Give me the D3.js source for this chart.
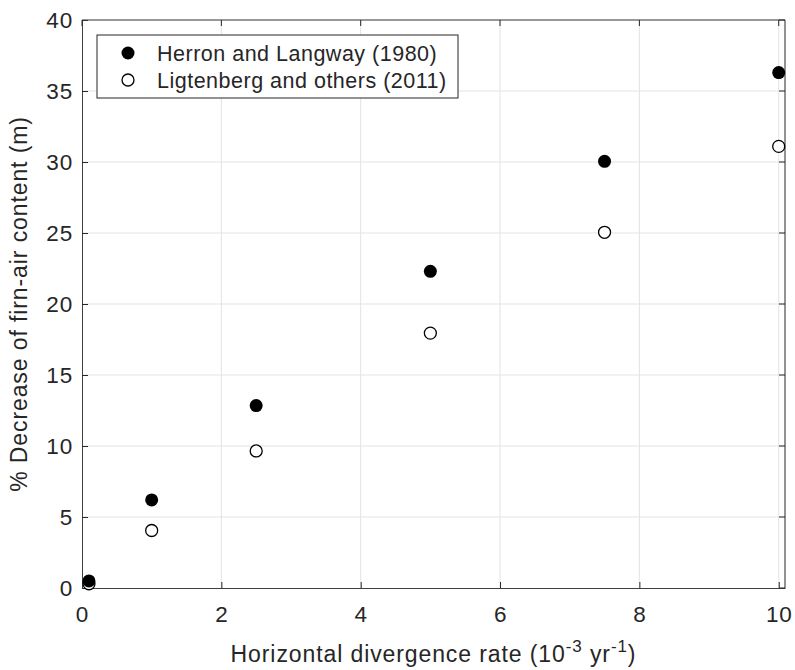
<!DOCTYPE html>
<html>
<head>
<meta charset="utf-8">
<script src="https://cdn.jsdelivr.net/npm/d3@7"></script>
<style>
  body { margin: 0; background: #fff; }
  text { font-family: "Liberation Sans", Arial, sans-serif; fill: #262626; }
</style>
</head>
<body>
<div class="svgcontainer"></div>
<script>
// divergence rates (10^-3 yr^-1)
const rates = [0.1, 1, 2.5, 5, 7.5, 10];
const herron = [0.5, 6.2, 12.85, 22.3, 30.05, 36.3];
const ligtenberg = [0.3, 4.05, 9.65, 17.95, 25.05, 31.1];
const xTicks = [0, 2, 4, 6, 8, 10];
const yTicks = [0, 5, 10, 15, 20, 25, 30, 35, 40];
const seriesNames = ["Herron and Langway (1980)", "Ligtenberg and others (2011)"];

const width = 795, height = 670;
const margin = {left: 82, right: 10, top: 20, bottom: 82};

const svg = d3.select(".svgcontainer")
  .append("svg")
  .attr("width", width)
  .attr("height", height);

const x = d3.scaleLinear()
  .domain([0, 10.09])
  .range([margin.left, width - margin.right]);

const y = d3.scaleLinear()
  .domain([0, 40])
  .range([height - margin.bottom, margin.top]);

// grid
svg.append("g")
  .selectAll("line.vx")
  .data(xTicks.slice(1))
  .join("line")
  .attr("x1", d => x(d)).attr("x2", d => x(d))
  .attr("y1", y(0)).attr("y2", y(40))
  .attr("stroke", "#e3e3e3").attr("stroke-width", 1);

svg.append("g")
  .selectAll("line.hy")
  .data(yTicks.slice(1))
  .join("line")
  .attr("x1", x(0)).attr("x2", x.range()[1])
  .attr("y1", d => y(d)).attr("y2", d => y(d))
  .attr("stroke", "#e3e3e3").attr("stroke-width", 1);

// axes
const xAxis = d3.axisBottom(x).tickValues(xTicks).tickSizeInner(-6).tickSizeOuter(0).tickPadding(18);
const yAxis = d3.axisLeft(y).tickValues(yTicks).tickSizeInner(-6).tickSizeOuter(0).tickPadding(9);

const gx = svg.append("g")
  .attr("transform", `translate(0,${y(0)})`)
  .call(xAxis);
const gy = svg.append("g")
  .attr("transform", `translate(${x(0)},0)`)
  .call(yAxis);

[gx, gy].forEach(g => {
  g.select(".domain").attr("stroke", "#404040");
  g.selectAll(".tick line").attr("stroke", "#262626");
  g.selectAll(".tick text")
    .attr("font-size", 22.5)
    .attr("letter-spacing", 0.8)
    .attr("font-family", "Liberation Sans, Arial, sans-serif")
    .attr("fill", "#262626");
});

// top and right box with ticks
svg.append("line")
  .attr("x1", x(0)).attr("x2", x.range()[1])
  .attr("y1", y(40)).attr("y2", y(40))
  .attr("stroke", "#404040");
svg.append("line")
  .attr("x1", x.range()[1]).attr("x2", x.range()[1])
  .attr("y1", y(0)).attr("y2", y(40))
  .attr("stroke", "#262626");
svg.append("g").selectAll("line")
  .data(xTicks)
  .join("line")
  .attr("x1", d => x(d)).attr("x2", d => x(d))
  .attr("y1", y(40)).attr("y2", y(40) + 6)
  .attr("stroke", "#262626");
svg.append("g").selectAll("line")
  .data(yTicks)
  .join("line")
  .attr("x1", x.range()[1]).attr("x2", x.range()[1] - 6)
  .attr("y1", d => y(d)).attr("y2", d => y(d))
  .attr("stroke", "#262626");

// points
svg.append("g").selectAll("circle")
  .data(rates.map((r, i) => [r, ligtenberg[i]]))
  .join("circle")
  .attr("cx", d => x(d[0])).attr("cy", d => y(d[1]))
  .attr("r", 6)
  .attr("fill", "#fff").attr("stroke", "#000").attr("stroke-width", 1.3);

svg.append("g").selectAll("circle")
  .data(rates.map((r, i) => [r, herron[i]]))
  .join("circle")
  .attr("cx", d => x(d[0])).attr("cy", d => y(d[1]))
  .attr("r", 6.5)
  .attr("fill", "#000");

// legend
const legend = svg.append("g").attr("transform", "translate(97,35)");
legend.append("rect")
  .attr("width", 361).attr("height", 63)
  .attr("fill", "#fff").attr("stroke", "#262626").attr("stroke-width", 1);
seriesNames.forEach((name, i) => {
  const cy = 18 + i * 27;
  legend.append("circle")
    .attr("cx", 31).attr("cy", cy).attr("r", i === 0 ? 6.5 : 6)
    .attr("fill", i === 0 ? "#000" : "#fff")
    .attr("stroke", "#000").attr("stroke-width", i === 0 ? 0 : 1.3);
  legend.append("text")
    .attr("x", 60).attr("y", cy)
    .attr("dy", "0.36em")
    .attr("font-size", 21.5)
    .attr("letter-spacing", 0.5)
    .attr("fill", "#000")
    .text(name);
});

// axis labels
const xl = svg.append("text")
  .attr("x", (x(0) + x.range()[1]) / 2)
  .attr("y", 662)
  .attr("text-anchor", "middle")
  .attr("font-size", 23)
  .attr("letter-spacing", 0.9);
xl.append("tspan").text("Horizontal divergence rate (10");
xl.append("tspan").attr("font-size", 17).attr("dy", -10).text("-3");
xl.append("tspan").attr("dy", 10).text(" yr");
xl.append("tspan").attr("font-size", 17).attr("dy", -10).text("-1");
xl.append("tspan").attr("dy", 10).text(")");

svg.append("text")
  .attr("transform", `translate(27,${(y(0) + y(40)) / 2}) rotate(-90)`)
  .attr("text-anchor", "middle")
  .attr("font-size", 23)
  .attr("letter-spacing", 0.9)
  .text("% Decrease of firn-air content (m)");
</script>
</body>
</html>
